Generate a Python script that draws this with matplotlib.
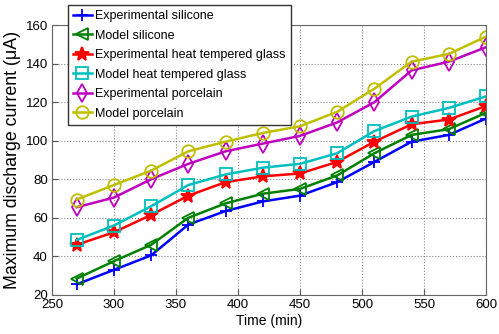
import matplotlib
matplotlib.use("Agg")
import matplotlib.pyplot as plt

plt.rcParams['font.family'] = ['Liberation Sans', 'DejaVu Sans']

time = [270, 300, 330, 360, 390, 420, 450, 480, 510, 540, 570, 600]

exp_silicone = [25.5, 33, 40.5, 56.5, 63.5, 68.5, 71.5, 78.5, 89, 99.5, 103, 111.5]
model_silicone = [28.5, 37.5, 46, 60, 67.5, 72.5, 75, 82, 93.5, 103, 106, 114.5]
exp_glass = [46, 52.5, 61.5, 71.5, 78.5, 81.5, 83, 89, 99.5, 108.5, 111, 118]
model_glass = [48.5, 56, 66, 77, 82.5, 86, 88, 93.5, 105, 112.5, 117, 123]
exp_porcelain = [65.5, 70.5, 80, 88, 94.5, 98.5, 102.5, 109.5, 120, 136.5, 141, 148.5]
model_porcelain = [69.5, 77, 84.5, 94.5, 99.5, 104, 107.5, 115, 127, 141, 145, 154]

series = [
    ("Experimental silicone", exp_silicone, '#0000ff', '+'),
    ("Model silicone", model_silicone, '#008000', '<'),
    ("Experimental heat tempered glass", exp_glass, '#ff0000', '*'),
    ("Model heat tempered glass", model_glass, '#00bfbf', 's'),
    ("Experimental porcelain", exp_porcelain, '#bf00bf', 'd'),
    ("Model porcelain", model_porcelain, '#bfbf00', 'o'),
]

fig = plt.figure(figsize=(4.99, 3.34), dpi=100)
ax = fig.add_axes([0.104, 0.117, 0.87, 0.808])

for label, vals, c, m in series:
    filled = m in ('*', '+')
    ax.plot(time, vals, color=c, lw=1.8, marker=m, markersize=9 if m != '*' else 10,
            markerfacecolor=c if filled else 'none', markeredgecolor=c,
            markeredgewidth=1.3, label=label)

ax.set_xlim(250, 600)
ax.set_ylim(20, 160)
ax.set_xticks(range(250, 601, 50))
ax.set_yticks(range(20, 161, 20))
ax.grid(True, linestyle=':', color='#888888', lw=0.8)
ax.tick_params(direction='in', labelsize=9.5, length=4, color='#555555', pad=3)
for s in ax.spines.values():
    s.set_color('#666666')

ax.set_xlabel("Time (min)", fontsize=10, labelpad=2)
ax.set_ylabel("Maximum discharge current (\u03bcA)", fontsize=12.8, labelpad=3)

leg = ax.legend(loc='upper left', bbox_to_anchor=(0.037, 1.074), fontsize=9,
                handlelength=1.5, handletextpad=0.3, borderpad=0.4,
                labelspacing=0.6, fancybox=False, framealpha=1, borderaxespad=0)
leg.get_frame().set_edgecolor('#333333')

fig.savefig("out.png", dpi=100)
